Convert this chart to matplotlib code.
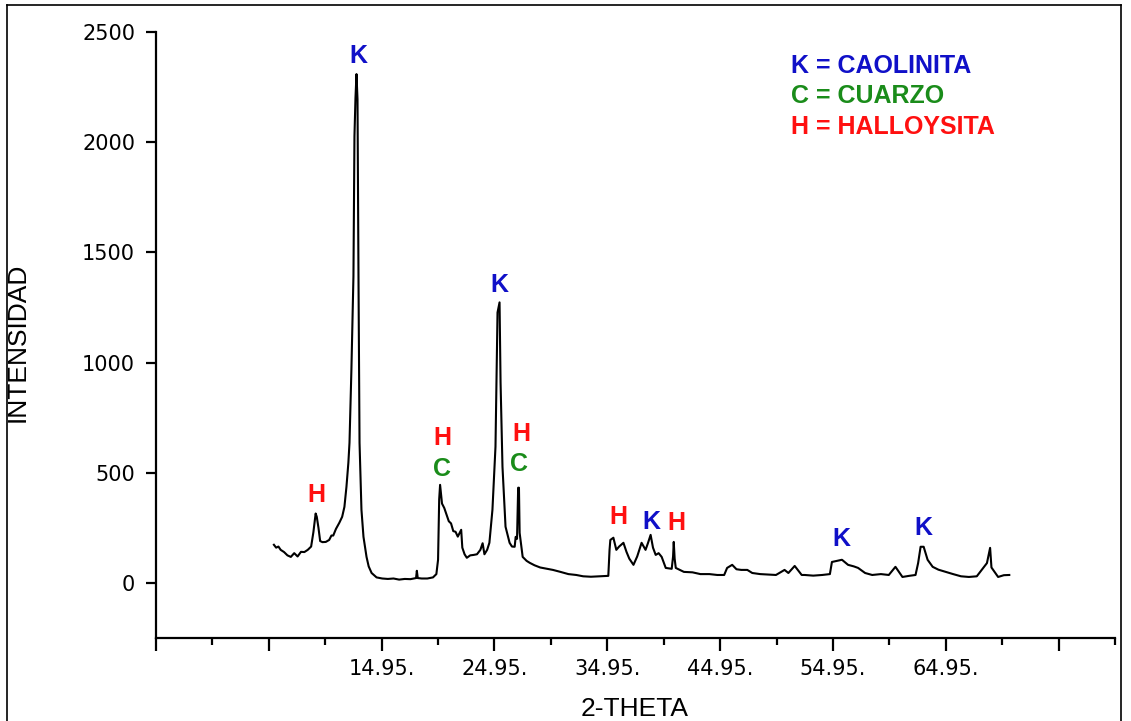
import numpy as np
import matplotlib.pyplot as plt
from matplotlib.lines import Line2D

# difractograma (lectura aproximada de la figura)
theta = [5.4, 5.6, 5.8, 6.0, 6.3, 6.6, 6.9, 7.2, 7.5, 7.8, 8.1, 8.4, 8.7, 8.9, 9.1,
         9.2, 9.35, 9.5, 9.7, 10.0, 10.3, 10.5, 10.66, 10.9, 11.2, 11.45, 11.65, 11.83,
         12.0, 12.1, 12.27, 12.45, 12.54, 12.63, 12.72, 12.81, 12.9, 12.99, 13.16, 13.34,
         13.61, 13.8, 14.06, 14.5, 15.0, 15.5, 16.0, 16.5, 17.0, 17.5, 18.0, 18.07, 18.15,
         18.5, 19.0, 19.5, 19.8, 19.95, 20.05, 20.13, 20.3, 20.5, 20.7, 20.9, 21.1, 21.3,
         21.5, 21.7, 21.9, 22.0, 22.1, 22.3, 22.5, 22.8, 23.1, 23.4, 23.7, 23.9, 24.06,
         24.3, 24.5, 24.77, 25.04, 25.13, 25.22, 25.4, 25.49, 25.66, 25.84, 25.93, 26.29,
         26.5, 26.74, 26.83, 26.95, 27.05, 27.12, 27.18, 27.45, 27.8, 28.08, 28.5, 29.0,
         29.5, 30.13, 30.8, 31.5, 32.2, 32.81, 33.5, 34.3, 35.04, 35.15, 35.22, 35.49,
         35.75, 36.0, 36.38, 36.65, 36.9, 37.27, 37.6, 37.99, 38.34, 38.55, 38.79, 39.0,
         39.24, 39.5, 39.77, 40.13, 40.66, 40.78, 40.84, 40.92, 41.02, 41.74, 42.5, 43.2,
         44.0, 44.7, 45.31, 45.57, 46.02, 46.4, 46.82, 47.36, 47.8, 48.5, 49.2, 49.9,
         50.66, 51.0, 51.56, 52.18, 52.45, 53.2, 54.0, 54.68, 54.86, 55.3, 55.75, 56.29,
         56.8, 57.18, 57.8, 58.43, 59.2, 59.9, 60.49, 61.11, 61.7, 62.27, 62.5, 62.72,
         62.99, 63.34, 63.79, 64.3, 64.95, 65.6, 66.3, 67.0, 67.7, 68.34, 68.6, 68.88,
         69.0, 69.15, 69.59, 70.1, 70.58]
intensidad = [173, 160, 165, 150, 140, 125, 118, 135, 120, 141, 140, 150, 165, 230, 315,
              300, 250, 190, 185, 186, 195, 215, 215, 245, 273, 300, 345, 436,
              545, 636, 968, 1391, 2027, 2200, 2309, 2195, 1364, 636, 332, 209,
              118, 75, 45, 25, 20, 18, 20, 15, 18, 17, 22, 55, 22,
              20, 20, 25, 40, 105, 380, 445, 360, 340, 310, 280, 270, 235,
              232, 210, 230, 241, 160, 130, 114, 125, 127, 130, 150, 180, 130,
              150, 182, 332, 618, 923, 1227, 1273, 909, 527, 345, 255, 182,
              165, 164, 209, 200, 432, 432, 227, 118, 100, 91, 80, 70,
              65, 59, 50, 40, 36, 30, 28, 30, 32, 150, 195, 205,
              150, 165, 182, 141, 110, 82, 120, 182, 150, 180, 218, 160,
              127, 135, 118, 68, 64, 120, 186, 110, 68, 50, 48, 40,
              40, 36, 36, 68, 82, 62, 59, 59, 45, 40, 38, 36,
              59, 45, 77, 36, 36, 33, 36, 40, 95, 100, 105, 82,
              75, 68, 45, 36, 40, 36, 73, 27, 32, 36, 90, 164,
              164, 105, 73, 60, 50, 40, 30, 27, 30, 73, 90, 159,
              70, 59, 27, 35, 36]

# etiquetas de picos
pico_letra = ['H', 'K', 'H', 'C', 'K', 'H', 'C', 'H', 'K', 'H', 'K', 'K']
pico_x = [9.15, 12.9, 20.3, 20.3, 25.4, 27.36, 27.1, 35.93, 38.88, 41.11, 55.66, 62.99]
pico_y = [400, 2391, 659, 518, 1350, 677, 541, 300, 277, 273, 200, 250]

leyenda = ['K = CAOLINITA', 'C = CUARZO', 'H = HALLOYSITA']
colores = {'K': '#1010c8', 'C': '#1a8c1a', 'H': '#ff1010'}

xticks_major = [-5.05, 4.95, 14.95, 24.95, 34.95, 44.95, 54.95, 64.95, 74.95]
xtick_labels = ['', '', '14.95.', '24.95.', '34.95.', '44.95.', '54.95.', '64.95.', '']
yticks = [0, 500, 1000, 1500, 2000, 2500]

fig = plt.figure(figsize=(11.31, 7.21), dpi=100)
ax = fig.add_axes([156 / 1131, 1 - 638 / 721, (1115 - 156) / 1131, (638 - 32) / 721])

ax.plot(theta, intensidad, color='black', lw=1.5)

ax.set_xlim(-5.05, 79.95)
ax.set_ylim(-250, 2500)
ax.set_xticks(xticks_major)
ax.set_xticklabels(xtick_labels)
ax.set_xticks(np.arange(-0.05, 80, 10), minor=True)
ax.set_yticks(yticks)

for s in ['top', 'right']:
    ax.spines[s].set_visible(False)
for s in ['left', 'bottom']:
    ax.spines[s].set_linewidth(1.6)

ax.tick_params(axis='x', which='major', length=9, width=1.6, pad=6,
               labelsize=15)
ax.tick_params(axis='x', which='minor', length=5, width=1.6)
ax.tick_params(axis='y', length=7, width=1.6, pad=8, labelsize=15)

ax.set_xlabel('2-THETA', family='Liberation Sans', fontsize=19)
ax.xaxis.set_label_coords((635 - 156) / (1115 - 156), -(697 - 638) / (638 - 32))
ax.set_ylabel('INTENSIDAD', family='Liberation Sans', fontsize=19)
ax.yaxis.set_label_coords(-(156 - 30) / (1115 - 156), (638 - 342) / (638 - 32))

for letra, x, y in zip(pico_letra, pico_x, pico_y):
    ax.text(x, y, letra, color=colores[letra], family='Liberation Sans',
            fontweight='bold', fontsize=18, ha='center', va='center')

for txt, y in zip(leyenda, [2345, 2209, 2068]):
    ax.text(51.2, y, txt, color=colores[txt[0]], family='Liberation Sans',
            fontweight='bold', fontsize=18, ha='left', va='center')

# marco de la figura
fx0, fx1, fy1 = 7 / 1131, 1121 / 1131, 1 - 5 / 721
for xs, ys in [([fx0, fx0], [0, fy1]), ([fx0, fx1], [fy1, fy1]), ([fx1, fx1], [0, fy1])]:
    fig.add_artist(Line2D(xs, ys, color='black', lw=1.2))

fig.savefig('out.png', dpi=100)
